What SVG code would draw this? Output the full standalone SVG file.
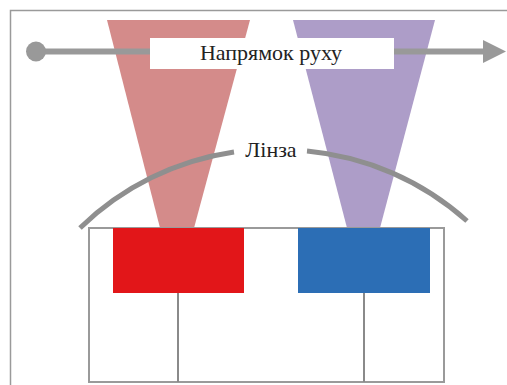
<svg xmlns="http://www.w3.org/2000/svg" width="507" height="385" viewBox="0 0 507 385">
  <style>
    .frame { fill: none; stroke: #9a9a9a; stroke-width: 1.5; }
    .lens { fill: none; stroke: #8f8f8f; stroke-width: 5; stroke-linecap: butt; }
    .box { fill: #ffffff; stroke: #9a9a9a; stroke-width: 2; }
    .rod { stroke: #8a8a8a; stroke-width: 2; }
    .label { font-family: "Liberation Serif", "DejaVu Serif", serif; font-size: 22px; fill: #222222; text-anchor: middle; }
  </style>
  <rect width="507" height="385" fill="#ffffff"/>

  <!-- outer frame: top and left edges only -->
  <g id="frame">
    <path class="frame" d="M10.5 385 V10.5 H507"/>
  </g>

  <!-- light beams -->
  <g id="beam-red">
    <polygon points="107,20 250,20 194,228 160,228" fill="#d48b8a"/>
  </g>
  <g id="beam-blue">
    <polygon points="293,20 435,20 380,228 347,228" fill="#ad9dc8"/>
  </g>

  <!-- direction of motion -->
  <g id="connectors">
    <line x1="36" y1="51.5" x2="486" y2="51.5" stroke="#999999" stroke-width="6"/>
    <circle cx="36" cy="51.5" r="10" fill="#999999"/>
    <polygon points="483,40 506,51.5 483,63" fill="#999999"/>
  </g>
  <g id="motion-label">
    <rect x="150" y="38" width="244" height="31" fill="#ffffff"/>
    <text class="label" x="271" y="60">Напрямок руху</text>
  </g>

  <!-- lens arc with its label -->
  <g id="lens">
    <path class="lens" d="M80 228 A278 278 0 0 1 234 152"/>
    <path class="lens" d="M307 151 A278 278 0 0 1 467 221"/>
    <text class="label" x="271" y="157">Лінза</text>
  </g>

  <!-- sensor housing -->
  <g id="housing">
    <rect class="box" x="89" y="228" width="355" height="154"/>
    <line class="rod" x1="178" y1="293" x2="178" y2="382"/>
    <line class="rod" x1="364" y1="293" x2="364" y2="382"/>
  </g>
  <g id="sensor-red">
    <rect x="113" y="228" width="131" height="65" fill="#e21619"/>
  </g>
  <g id="sensor-blue">
    <rect x="298" y="228" width="132" height="65" fill="#2c6eb5"/>
  </g>
</svg>
